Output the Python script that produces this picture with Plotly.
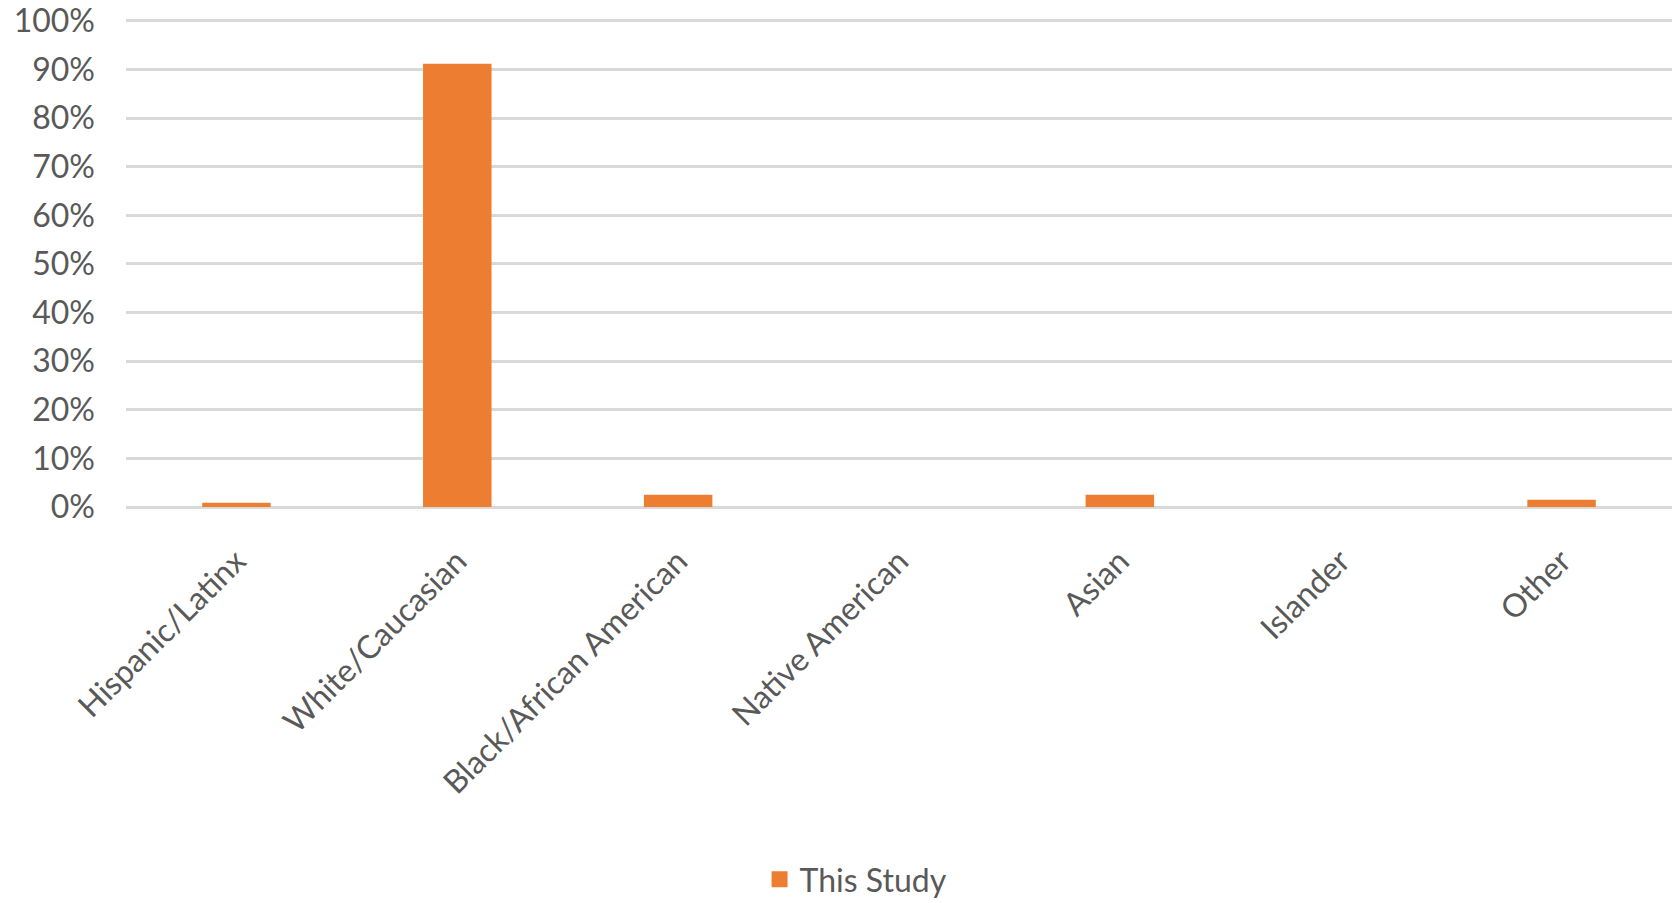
import plotly.graph_objects as go

# Share of participants by race/ethnicity
categories = ["Hispanic/Latinx", "White/Caucasian", "Black/African American",
              "Native American", "Asian", "Islander", "Other"]
this_study = [0.009, 0.912, 0.025, 0.0, 0.025, 0.0, 0.015]
y_ticks = [i / 10 for i in range(11)]
y_tick_labels = [f"{i * 10}%" for i in range(11)]

FONT = "Lato, Calibri, sans-serif"
TEXT = "#595959"
GRID = "#d9d9d9"
BAR = "#ED7D31"

fig = go.Figure()
fig.add_trace(go.Bar(
    x=categories,
    y=this_study,
    name="This Study",
    marker=dict(color=BAR, line=dict(width=0)),
    showlegend=False,
))
# Legend key with a larger square swatch
fig.add_trace(go.Scatter(
    x=[None], y=[None],
    mode="markers",
    name="This Study",
    marker=dict(symbol="square", size=19, color=BAR),
    showlegend=True,
))

fig.update_layout(
    width=1672,
    height=903,
    margin=dict(l=126, r=0, t=19, b=396),
    paper_bgcolor="white",
    plot_bgcolor="white",
    bargap=0.69,
    font=dict(family=FONT, size=32, color=TEXT),
    legend=dict(
        orientation="h",
        xref="container", yref="container",
        x=0.512, y=0.026, xanchor="center", yanchor="middle",
        font=dict(family=FONT, size=32, color=TEXT),
        itemwidth=30,
    ),
)

fig.update_xaxes(
    tickangle=-45,
    tickfont=dict(family=FONT, size=32, color=TEXT),
    showgrid=False,
    showline=False,
    ticks="",
    ticklabelstandoff=28,
)

fig.update_yaxes(
    range=[0, 1.004],
    tickvals=y_ticks,
    ticktext=y_tick_labels,
    tickfont=dict(family=FONT, size=32, color=TEXT),
    showgrid=True,
    gridcolor=GRID,
    gridwidth=2.5,
    zeroline=True,
    zerolinecolor=GRID,
    zerolinewidth=3,
    showline=False,
    ticks="",
    ticklabelstandoff=30,
)

fig.write_html("out.html")
